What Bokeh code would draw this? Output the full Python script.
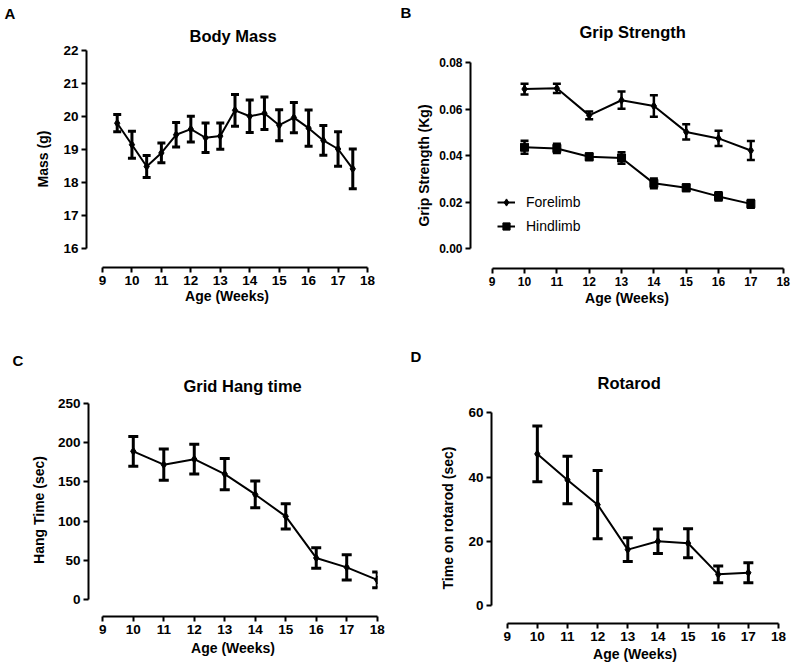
from bokeh.plotting import figure
from bokeh.layouts import column, row
from bokeh.models import (ColumnDataSource, Whisker, TeeHead, FixedTicker, Title,
                          Legend, LegendItem, NumeralTickFormatter)
from bokeh.embed import file_html
from bokeh.resources import INLINE

# ---------------- data ----------------
x_ticks = [9, 10, 11, 12, 13, 14, 15, 16, 17, 18]

mass_weeks = [9.5, 10, 10.5, 11, 11.5, 12, 12.5, 13, 13.5, 14, 14.5, 15, 15.5, 16, 16.5, 17, 17.5]
mass = [19.80, 19.15, 18.49, 18.90, 19.45, 19.62, 19.36, 19.41, 20.19, 20.01, 20.10,
        19.74, 19.97, 19.65, 19.28, 19.02, 18.42]
mass_err = [0.26, 0.41, 0.33, 0.30, 0.37, 0.39, 0.45, 0.40, 0.48, 0.49, 0.49,
            0.47, 0.46, 0.55, 0.45, 0.52, 0.60]
mass_ticks = [16, 17, 18, 19, 20, 21, 22]

grip_weeks = [10, 11, 12, 13, 14, 15, 16, 17]
forelimb = [0.0686, 0.0689, 0.0573, 0.0638, 0.0613, 0.0502, 0.0474, 0.0422]
forelimb_err = [0.0023, 0.0020, 0.0017, 0.0037, 0.0046, 0.0033, 0.0033, 0.0041]
hindlimb = [0.0436, 0.0431, 0.0395, 0.0390, 0.0281, 0.0262, 0.0225, 0.0193]
hindlimb_err = [0.0028, 0.0020, 0.0014, 0.0025, 0.0021, 0.0014, 0.0018, 0.0017]
grip_ticks = [0.00, 0.02, 0.04, 0.06, 0.08]

hang_weeks = [10, 11, 12, 13, 14, 15, 16, 17, 18]
hang = [189, 172, 179, 160, 134, 106, 53, 41, 25]
hang_err = [19, 20, 19, 20, 17, 16, 13, 16, 10]
hang_ticks = [0, 50, 100, 150, 200, 250]

rotarod_weeks = [10, 11, 12, 13, 14, 15, 16, 17]
rotarod = [47.2, 39.1, 31.4, 17.4, 20.0, 19.4, 9.7, 10.2]
rotarod_err = [8.7, 7.4, 10.6, 3.7, 3.8, 4.5, 2.6, 3.1]
rotarod_ticks = [0, 20, 40, 60]

FONT = "Liberation Sans"


def lin(v1, p1, v2, p2, p):
    return v1 + (p - p1) * (v2 - v1) / (p2 - p1)


def make_panel(canvas, frame, xa, ya, y_lo, y_hi, y_ticks, ylabel, tick_size,
               ylab_standoff, xlab_standoff, title, title_left, letter, letter_left,
               spacer, letter_standoff, yfmt=None):
    ox, oy, W, H = canvas
    fl, fr, ft, fb = frame
    xr = (lin(9, xa[0], 18, xa[1], fl), lin(9, xa[0], 18, xa[1], fr))
    yr = (lin(y_lo, ya[0], y_hi, ya[1], fb), lin(y_lo, ya[0], y_hi, ya[1], ft))
    p = figure(width=W, height=H, x_range=xr, y_range=yr, output_backend="svg",
               toolbar_location=None, tools="", frame_align=False,
               min_border_left=fl - ox, min_border_right=W - (fr - ox),
               min_border_top=ft - oy, min_border_bottom=H - (fb - oy))
    p.outline_line_color = None
    p.xgrid.visible = False
    p.ygrid.visible = False
    for ax in (p.xaxis[0], p.yaxis[0]):
        ax.axis_line_width = 2
        ax.major_tick_line_width = 2
        ax.major_tick_out = 5
        ax.major_tick_in = 0
        ax.minor_tick_line_color = None
        ax.major_label_text_font = FONT
        ax.major_label_text_font_style = "bold"
        ax.major_label_text_font_size = tick_size
        ax.major_label_text_color = "black"
        ax.major_label_standoff = 3
        ax.axis_label_text_font = FONT
        ax.axis_label_text_font_style = "bold"
        ax.axis_label_text_font_size = "14px"
        ax.axis_label_text_color = "black"
    p.xaxis.bounds = (9, 18)
    p.xaxis.ticker = FixedTicker(ticks=x_ticks)
    p.xaxis.axis_label = "Age (Weeks)"
    p.xaxis.axis_label_standoff = xlab_standoff
    p.yaxis.bounds = (y_lo, y_hi)
    p.yaxis.ticker = FixedTicker(ticks=y_ticks)
    p.yaxis.axis_label = ylabel
    p.yaxis.axis_label_standoff = ylab_standoff
    if yfmt is not None:
        p.yaxis.formatter = yfmt
    # panel letter = the plot's own (outermost) title
    p.title.text = letter
    p.title.align = "left"
    p.title.offset = letter_left - fl
    p.title.text_font = FONT
    p.title.text_font_style = "bold"
    p.title.text_font_size = "15px"
    p.title.text_color = "black"
    p.title.standoff = letter_standoff
    # spacer between frame and chart title
    p.add_layout(Title(text=" ", text_font_size="1px", standoff=spacer), "above")
    # chart title
    p.add_layout(Title(text=title, align="left", offset=title_left - fl, text_font=FONT,
                       text_font_style="bold", text_font_size="16.5px", text_color="black",
                       standoff=0), "above")
    return p


def add_series(p, xs, ys, es, marker, msize, lw, cap, elw):
    src = ColumnDataSource(dict(x=xs, y=ys,
                                upper=[a + b for a, b in zip(ys, es)],
                                lower=[a - b for a, b in zip(ys, es)]))
    p.add_layout(Whisker(base="x", upper="upper", lower="lower", source=src,
                         line_color="black", line_width=elw,
                         upper_head=TeeHead(size=cap, line_width=elw, line_color="black"),
                         lower_head=TeeHead(size=cap, line_width=elw, line_color="black")))
    ln = p.line("x", "y", source=src, line_color="black", line_width=lw)
    sc = p.scatter("x", "y", source=src, marker=marker, size=msize,
                   fill_color="black", line_color="black")
    return ln, sc


# ---- Panel A: Body Mass ----
pa = make_panel((0, 0, 400, 320), (86, 367, 50, 267), (102, 367), (248.3, 50), 16, 22,
                mass_ticks, "Mass (g)", "13.5px", 9, 0,
                "Body Mass", 189, "A", 4, 3, 5)
add_series(pa, mass_weeks, mass, mass_err, "diamond", 8, 2, 8, 3)

# ---- Panel B: Grip Strength ----
pb = make_panel((400, 0, 393, 320), (470, 783, 62, 268), (491.7, 782.7), (248.3, 62), 0, 0.08,
                grip_ticks, "Grip Strength (Kg)", "12px", 4, 1,
                "Grip Strength", 579, "B", 400, 19, 0,
                yfmt=NumeralTickFormatter(format="0.00"))
fl_line, fl_sc = add_series(pb, grip_weeks, forelimb, forelimb_err, "diamond", 8, 2, 8, 2.5)
hl_line, hl_sc = add_series(pb, grip_weeks, hindlimb, hindlimb_err, "square", 8, 2, 8, 2.5)
legend = Legend(items=[LegendItem(label="Forelimb", renderers=[fl_line, fl_sc]),
                       LegendItem(label="Hindlimb", renderers=[hl_line, hl_sc])],
                location=(27, 30), padding=0, margin=0, spacing=0,
                glyph_width=18, glyph_height=24, label_height=24, label_standoff=11,
                label_text_font=FONT, label_text_font_size="14px", label_text_color="black",
                border_line_alpha=0, background_fill_alpha=0)
pb.add_layout(legend)

# ---- Panel C: Grid Hang time ----
pc = make_panel((0, 320, 400, 348), (88, 377, 403, 616), (102.3, 376.7), (599, 403), 0, 250,
                hang_ticks, "Hang Time (sec)", "13.5px", 8, 3,
                "Grid Hang time", 183, "C", 12, 6, 12)
add_series(pc, hang_weeks, hang, hang_err, "diamond", 8, 2, 10, 3)

# ---- Panel D: Rotarod ----
pd_ = make_panel((400, 320, 393, 348), (491, 778, 412, 623), (506.7, 778), (605, 412.3), 0, 60,
                 rotarod_ticks, "Time on rotarod (sec)", "13.5px", 9, 2,
                 "Rotarod", 597, "D", 410, 18, 13)
add_series(pd_, rotarod_weeks, rotarod, rotarod_err, "diamond", 8, 2, 10, 3)

layout = column(row(pa, pb), row(pc, pd_))

open("out.html", "w").write(file_html(layout, INLINE))
